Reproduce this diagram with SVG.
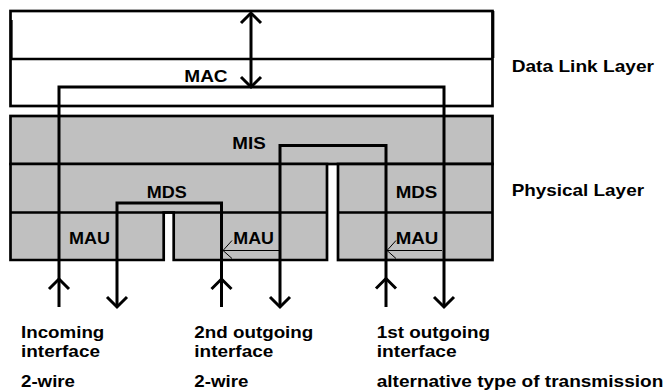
<svg xmlns="http://www.w3.org/2000/svg" width="668" height="391" viewBox="0 0 668 391">
<style>
.box{fill:#fff;stroke:#000;stroke-width:2.7}
.gray{fill:#c0c0c0;stroke:#000;stroke-width:2.7;stroke-linejoin:miter}
.sep{fill:none;stroke:#000;stroke-width:2.7}
.wire{fill:none;stroke:#000;stroke-width:3;stroke-linejoin:miter;stroke-linecap:butt}
.thin{fill:none;stroke:#000;stroke-width:1}
text{font-family:"Liberation Sans",Arial,Helvetica,sans-serif;font-weight:bold;font-size:17px;fill:#000}
</style>
<defs>
<path id="up" class="wire" d="M-10,10 L0,0 L10,10"/>
<path id="down" class="wire" d="M-10,-10 L0,0 L10,-10"/>
<path id="left" class="thin" d="M9,-10 L0,0 L9,8"/>
</defs>
<rect width="668" height="391" fill="#fff"/>

<g id="data-link-layer">
<rect class="box" x="10.5" y="11" width="482" height="95"/>
<line class="sep" x1="10.5" y1="59" x2="492.5" y2="59"/>
<path class="sep" stroke-width="4.2" d="M11.3,20 V58 M493,11 V58"/>
</g>

<g id="physical-layer">
<rect id="mis" class="gray" x="10.5" y="116" width="482" height="48"/>
<g id="left-block">
<path class="gray" d="M10.5,164 H327 V260 H173.7 V212.5 H163.7 V260 H10.5 Z"/>
<line class="sep" x1="10.5" y1="212.5" x2="327" y2="212.5"/>
</g>
<g id="right-block">
<rect class="gray" x="338" y="164" width="154.5" height="96"/>
<line class="sep" x1="338" y1="212.5" x2="492.5" y2="212.5"/>
</g>
</g>

<g id="connectors">
<path class="wire" d="M251,13 V87"/>
<use href="#up" x="251" y="13"/>
<use href="#down" x="251" y="87"/>

<path class="wire" d="M59,307 V87 H444 V307"/>
<use href="#up" x="59" y="279"/>
<use href="#down" x="444" y="307"/>

<path class="wire" d="M280,307 V145.5 H386 V307"/>
<use href="#down" x="280" y="307"/>
<use href="#up" x="386" y="278.5"/>

<path class="wire" d="M117,307 V203 H221.5 V307"/>
<use href="#down" x="117" y="307"/>
<use href="#up" x="221.5" y="279"/>

<path class="thin" d="M279,250.5 H223"/>
<use href="#left" x="223" y="250.5"/>
<path class="thin" d="M442,250.5 H387"/>
<use href="#left" x="387" y="250.5"/>
</g>

<g id="labels">
<text x="184.3" y="81.5" textLength="43.3" lengthAdjust="spacingAndGlyphs">MAC</text>
<text x="232.3" y="149" textLength="33.4" lengthAdjust="spacingAndGlyphs">MIS</text>
<text x="146.7" y="197.5" textLength="40" lengthAdjust="spacingAndGlyphs">MDS</text>
<text x="395.7" y="197.5" textLength="41.6" lengthAdjust="spacingAndGlyphs">MDS</text>
<text x="69" y="244" textLength="41" lengthAdjust="spacingAndGlyphs">MAU</text>
<text x="233.3" y="244" textLength="40.7" lengthAdjust="spacingAndGlyphs">MAU</text>
<text x="395.7" y="244" textLength="42.6" lengthAdjust="spacingAndGlyphs">MAU</text>
<text x="511.7" y="72.3" textLength="142.3" lengthAdjust="spacingAndGlyphs">Data Link Layer</text>
<text x="511.7" y="195.7" textLength="132.3" lengthAdjust="spacingAndGlyphs">Physical Layer</text>
<text x="21" y="338.3" textLength="83.3" lengthAdjust="spacingAndGlyphs">Incoming</text>
<text x="21" y="356.5" textLength="79" lengthAdjust="spacingAndGlyphs">interface</text>
<text x="21" y="386.7" textLength="54" lengthAdjust="spacingAndGlyphs">2-wire</text>
<text x="194.3" y="338.3" textLength="119" lengthAdjust="spacingAndGlyphs">2nd outgoing</text>
<text x="194.3" y="356.5" textLength="79" lengthAdjust="spacingAndGlyphs">interface</text>
<text x="194.3" y="386.7" textLength="54" lengthAdjust="spacingAndGlyphs">2-wire</text>
<text x="376.7" y="338.3" textLength="113.3" lengthAdjust="spacingAndGlyphs">1st outgoing</text>
<text x="376.7" y="356.5" textLength="80" lengthAdjust="spacingAndGlyphs">interface</text>
<text x="376.7" y="386.7" textLength="286.6" lengthAdjust="spacingAndGlyphs">alternative type of transmission</text>
</g>
</svg>
